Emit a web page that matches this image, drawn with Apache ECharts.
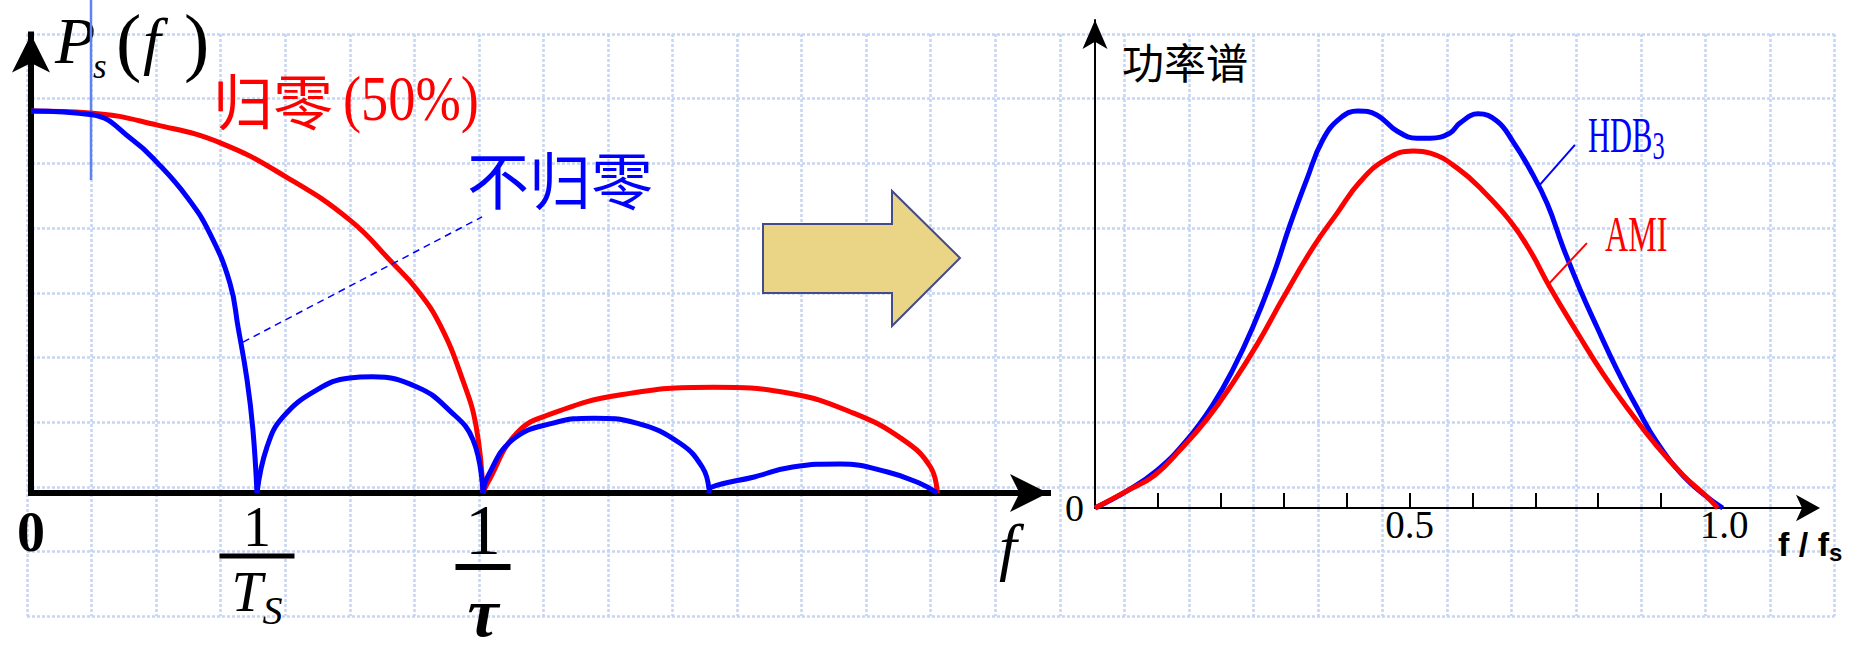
<!DOCTYPE html>
<html><head><meta charset="utf-8">
<script src="https://cdn.jsdelivr.net/npm/echarts@6/dist/echarts.min.js"></script>
<style>html,body{margin:0;padding:0;background:#fff;}#c{width:1860px;height:661px;}</style>
</head><body><div id="c"></div>
<script>
// ---------- Left chart: power spectra, x in units of 1/Ts, y relative to P(0) ----------
const nrzLobe1 = [[0,1.0],[0.27,0.99],[0.45,0.924],[0.56,0.864],[0.69,0.775],[0.79,0.681],[0.88,0.55],[0.916,0.435],[0.956,0.296],[0.982,0.165],[1.0,0]];
const nrzLobe2 = [[1.0,0],[1.044,0.12],[1.115,0.199],[1.265,0.27],[1.41,0.301],[1.51,0.304],[1.71,0.277],[1.85,0.217],[1.956,0.139],[2.0,0]];
const nrzLobe3 = [[2.0,0],[2.02,0.042],[2.13,0.139],[2.31,0.183],[2.49,0.196],[2.68,0.183],[2.87,0.131],[2.97,0.068],[3.0,0.01]];
const nrzLobe4 = [[3.0,0],[3.01,0.015],[3.2,0.042],[3.37,0.068],[3.58,0.076],[3.79,0.055],[3.93,0.026],[4.01,0]];
const rzLobe1 = [[0,1.0],[0.26,0.995],[0.56,0.963],[0.84,0.916],[1.13,0.827],[1.41,0.715],[1.6,0.602],[1.71,0.531],[1.81,0.44],[1.91,0.296],[1.97,0.173],[2.0,0]];
const rzLobe2 = [[2.0,0],[2.02,0.026],[2.15,0.157],[2.31,0.209],[2.61,0.257],[3.02,0.277],[3.35,0.262],[3.64,0.209],[3.86,0.139],[3.98,0.068],[4.01,0]];
const nrzLeader = [[0.938,0.395],[1.996,0.723]];
const leftTickValues = [0, 1, 2];
const leftTickLabels = ['0', '1/T_S', '1/τ'];

// ---------- Right chart: HDB3 / AMI spectra vs f/fs ----------
const hdb3 = [[0,0],[0.051,0.048],[0.099,0.106],[0.146,0.19],[0.188,0.291],[0.219,0.387],[0.251,0.507],[0.283,0.65],[0.31,0.793],[0.337,0.922],[0.362,1.031],[0.39,1.092],[0.418,1.112],[0.448,1.101],[0.48,1.056],[0.512,1.036],[0.533,1.036],[0.564,1.05],[0.58,1.078],[0.609,1.104],[0.639,1.084],[0.665,1.025],[0.692,0.947],[0.719,0.852],[0.744,0.731],[0.771,0.613],[0.798,0.507],[0.83,0.387],[0.862,0.28],[0.893,0.185],[0.935,0.09],[0.973,0.031],[0.998,0]];
const ami = [[0,0],[0.051,0.048],[0.095,0.092],[0.135,0.162],[0.178,0.249],[0.219,0.35],[0.258,0.459],[0.299,0.588],[0.347,0.731],[0.385,0.826],[0.421,0.913],[0.464,0.978],[0.506,1.0],[0.533,0.994],[0.576,0.952],[0.617,0.888],[0.66,0.804],[0.692,0.72],[0.723,0.619],[0.766,0.493],[0.808,0.375],[0.851,0.269],[0.893,0.174],[0.935,0.092],[0.973,0.031],[0.99,0]];
const hdbLeader = [[0.704,0.899],[0.763,1.017]];
const amiLeader = [[0.72,0.625],[0.782,0.742]];
const rightTickValues = [0.5, 1.0];
const rightTickLabels = ['0.5', '1.0'];
const rightMinorTicks = [0.1,0.2,0.3,0.4,0.5,0.6,0.7,0.8,0.9];

// ---------- layout ----------
const L = {x0:31, y0:493, ux:226, uy:382, xmax:4.5, ymax:1.2};
const R = {x0:1095, y0:508, ux:629, uy:357, xmax:1.132, ymax:1.367};
const SERIF = 'Liberation Serif';
const CJK = 'Noto Sans CJK SC';

function leftLabel(v) {
  const i = leftTickValues.findIndex(t => Math.abs(t - v) < 1e-9);
  if (i < 0) return '';
  const txt = leftTickLabels[i];
  if (txt.indexOf('/') < 0) return '{zero|' + txt + '}';
  const parts = txt.split('/');
  if (parts[1] === 'T_S') return '{one|' + parts[0] + '}\n{barS|}\n{T|T}{S|S}';
  return '{big1|' + parts[0] + '}\n{barT|}\n{tau|' + parts[1] + '}';
}
function rightLabel(v) {
  const i = rightTickValues.findIndex(t => Math.abs(t - v) < 1e-6);
  return i < 0 ? '' : rightTickLabels[i];
}

const chart = echarts.init(document.getElementById('c'), null, {renderer:'svg', width:1860, height:661});
const paperLine = {show:true, lineStyle:{color:'#c6d5f3', width:2.5, type:[3,2]}};
const lineBase = {type:'line', showSymbol:false, symbol:'none', smooth:0.45, silent:true, clip:false, z:3};

chart.setOption({
  animation:false,
  backgroundColor:'#ffffff',
  grid:[
    {left:27, top:34, width:28*64.55, height:9*64.7, outerBoundsMode:'none'},
    {left:L.x0, top:L.y0 - L.ymax*L.uy, width:L.xmax*L.ux, height:L.ymax*L.uy, outerBoundsMode:'none'},
    {left:R.x0, top:R.y0 - R.ymax*R.uy, width:R.xmax*R.ux, height:R.ymax*R.uy, outerBoundsMode:'none'}
  ],
  xAxis:[
    {gridIndex:0, type:'value', min:0, max:28, interval:1, axisLine:{show:false}, axisTick:{show:false}, axisLabel:{show:false}, splitLine:paperLine},
    {gridIndex:1, type:'value', min:0, max:L.xmax, interval:1,
      axisLine:{show:true, onZero:false, lineStyle:{color:'#000', width:6, cap:'square'}, symbol:['none','arrow'], symbolSize:[28.5,38]},
      axisTick:{show:false}, splitLine:{show:false},
      axisLabel:{margin:12, color:'#000', formatter:leftLabel, rich:{
        zero:{fontFamily:SERIF, fontWeight:'bold', fontSize:56, lineHeight:54, color:'#000'},
        one:{fontFamily:SERIF, fontSize:56, lineHeight:43, color:'#000'},
        barS:{width:75, height:5, lineHeight:16, backgroundColor:'#000'},
        T:{fontFamily:SERIF, fontStyle:'italic', fontSize:56, lineHeight:56, color:'#000'},
        S:{fontFamily:SERIF, fontStyle:'italic', fontSize:40, lineHeight:56, padding:[36,0,0,0], color:'#000'},
        big1:{fontFamily:SERIF, fontSize:72, lineHeight:50, color:'#000'},
        barT:{width:55, height:6, lineHeight:24, backgroundColor:'#000'},
        tau:{fontFamily:SERIF, fontStyle:'italic', fontWeight:'bold', fontSize:70, lineHeight:66, color:'#000'}
      }},
      name:'f', nameLocation:'end', nameGap:-40,
      nameTextStyle:{fontFamily:SERIF, fontStyle:'italic', fontSize:64, lineHeight:70, align:'center', verticalAlign:'top', padding:[18,0,0,0], color:'#000'}
    },
    {gridIndex:2, type:'value', min:0, max:R.xmax, interval:0.1,
      axisLine:{show:true, onZero:false, lineStyle:{color:'#000', width:2}, symbol:['none','arrow'], symbolSize:[20,24], symbolOffset:[0,13]},
      axisTick:{show:true, inside:true, length:15, customValues:rightMinorTicks, lineStyle:{color:'#000', width:2}},
      splitLine:{show:false},
      axisLabel:{margin:1, formatter:rightLabel, fontFamily:SERIF, fontSize:39, lineHeight:30, color:'#000'},
      name:'{f|f / f}{s|s}', nameLocation:'end', nameGap:-29,
      nameTextStyle:{align:'left', verticalAlign:'top', padding:[16,0,0,0], rich:{
        f:{fontFamily:'Liberation Sans', fontWeight:'bold', fontSize:34, lineHeight:40, color:'#000'},
        s:{fontFamily:'Liberation Sans', fontWeight:'bold', fontSize:24, lineHeight:40, padding:[16,0,0,0], color:'#000'}
      }}
    }
  ],
  yAxis:[
    {gridIndex:0, type:'value', min:0, max:9, interval:1, axisLine:{show:false}, axisTick:{show:false}, axisLabel:{show:false}, splitLine:paperLine},
    {gridIndex:1, type:'value', min:0, max:L.ymax,
      axisLine:{show:true, onZero:false, lineStyle:{color:'#000', width:6, cap:'square'}, symbol:['none','arrow'], symbolSize:[28.5,38]},
      axisTick:{show:false}, axisLabel:{show:false}, splitLine:{show:false},
      name:'{P|P}{s|s}{lp|(}{f|f}{rp|)}', nameLocation:'end', nameGap:31,
      nameTextStyle:{align:'left', verticalAlign:'top', padding:[0,0,0,24], rich:{
        P:{fontFamily:SERIF, fontStyle:'italic', fontSize:66, lineHeight:74, width:38, color:'#000'},
        s:{fontFamily:SERIF, fontStyle:'italic', fontSize:35, lineHeight:74, width:23, padding:[52,0,0,0], color:'#000'},
        lp:{fontFamily:SERIF, fontSize:76, lineHeight:74, width:27, color:'#000'},
        f:{fontFamily:SERIF, fontStyle:'italic', fontSize:64, lineHeight:74, width:41, color:'#000'},
        rp:{fontFamily:SERIF, fontSize:76, lineHeight:74, color:'#000'}
      }}
    },
    {gridIndex:2, type:'value', min:0, max:R.ymax,
      axisLine:{show:true, onZero:false, lineStyle:{color:'#000', width:2}, symbol:['none','arrow'], symbolSize:[18.75,29]},
      axisTick:{show:false}, splitLine:{show:false},
      axisLabel:{margin:11, formatter:function(v){return v === 0 ? '0' : '';}, fontFamily:SERIF, fontSize:38, padding:[8,0,0,0], color:'#000'},
      name:'功率谱', nameLocation:'end', nameGap:-40.5,
      nameTextStyle:{align:'left', verticalAlign:'middle', padding:[0,0,0,27], fontFamily:CJK, fontSize:42, color:'#000'}
    }
  ],
  series:[
    Object.assign({}, lineBase, {name:'归零(50%) 主瓣', xAxisIndex:1, yAxisIndex:1, data:rzLobe1, lineStyle:{color:'#ff0000', width:5}}),
    Object.assign({}, lineBase, {name:'归零(50%) 旁瓣', xAxisIndex:1, yAxisIndex:1, data:rzLobe2, lineStyle:{color:'#ff0000', width:5}}),
    Object.assign({}, lineBase, {name:'不归零 1', xAxisIndex:1, yAxisIndex:1, data:nrzLobe1, lineStyle:{color:'#0000ff', width:5},
      markLine:{silent:true, symbol:['none','none'], label:{show:false}, lineStyle:{color:'#0000ff', width:1.5, type:[7,5]},
        data:[[{coord:nrzLeader[0]},{coord:nrzLeader[1]}]]}}),
    Object.assign({}, lineBase, {name:'不归零 2', xAxisIndex:1, yAxisIndex:1, data:nrzLobe2, lineStyle:{color:'#0000ff', width:5}}),
    Object.assign({}, lineBase, {name:'不归零 3', xAxisIndex:1, yAxisIndex:1, data:nrzLobe3, lineStyle:{color:'#0000ff', width:5}}),
    Object.assign({}, lineBase, {name:'不归零 4', xAxisIndex:1, yAxisIndex:1, data:nrzLobe4, lineStyle:{color:'#0000ff', width:5}}),
    Object.assign({}, lineBase, {name:'HDB3', xAxisIndex:2, yAxisIndex:2, data:hdb3, lineStyle:{color:'#0000ff', width:5},
      markLine:{silent:true, symbol:['none','none'], label:{show:false}, lineStyle:{color:'#0000ff', width:2, type:'solid'},
        data:[[{coord:hdbLeader[0]},{coord:hdbLeader[1]}]]}}),
    Object.assign({}, lineBase, {name:'AMI', xAxisIndex:2, yAxisIndex:2, data:ami, lineStyle:{color:'#ff0000', width:5},
      markLine:{silent:true, symbol:['none','none'], label:{show:false}, lineStyle:{color:'#ff0000', width:2, type:'solid'},
        data:[[{coord:amiLeader[0]},{coord:amiLeader[1]}]]}})
  ],
  graphic:[
    {type:'line', z:1, silent:true, shape:{x1:91, y1:0, x2:91, y2:180}, style:{stroke:'#5f82f2', lineWidth:2.5}},
    {type:'polygon', z:5, silent:true, shape:{points:[[763,224],[892,224],[892,191],[960,258],[892,326],[892,293],[763,293]]},
      style:{fill:'#e9d585', stroke:'#444a8a', lineWidth:2}},
    {type:'text', z:10, silent:true, x:213, y:98, style:{text:'归零', fontFamily:CJK, fontSize:60, lineHeight:64, fill:'#ff0000', align:'left', verticalAlign:'middle'}},
    {type:'text', z:10, silent:true, x:343, y:98, scaleX:0.85, style:{text:'(50%)', fontFamily:SERIF, fontSize:64, lineHeight:66, fill:'#ff0000', align:'left', verticalAlign:'middle'}},
    {type:'text', z:10, silent:true, x:467, y:177.5, style:{text:'不归零', fontFamily:CJK, fontSize:62, fill:'#0000ff', align:'left', verticalAlign:'middle'}},
    {type:'text', z:10, silent:true, x:1588, y:110.5, scaleX:0.61, style:{text:'{a|HDB}{b|3}', align:'left', verticalAlign:'top', rich:{
      a:{fontFamily:SERIF, fontSize:50, lineHeight:50, fill:'#0000ff'},
      b:{fontFamily:SERIF, fontSize:40, lineHeight:50, padding:[20,0,0,0], fill:'#0000ff'}}}},
    {type:'text', z:10, silent:true, x:1605, y:208.5, scaleX:0.63, style:{text:'AMI', fontFamily:SERIF, fontSize:51, lineHeight:51, fill:'#ff0000', align:'left', verticalAlign:'top'}}
  ]
});
</script></body></html>
